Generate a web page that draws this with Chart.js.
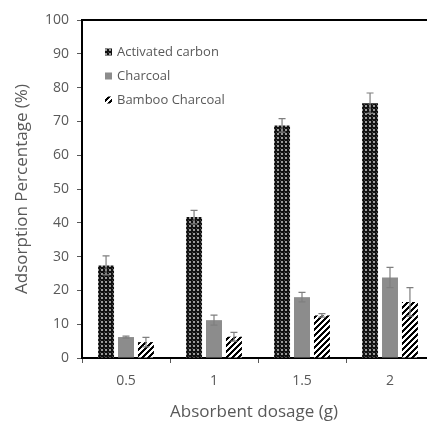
<!DOCTYPE html>
<html>
<head>
<meta charset="utf-8">
<script src="https://cdn.jsdelivr.net/npm/chart.js@4.4.1/dist/chart.umd.min.js"></script>
<style>
  html, body { margin: 0; padding: 0; background: #fff; overflow: hidden; }
  #wrap { width: 436px; height: 426px; }
</style>
</head>
<body>
<div id="wrap"><canvas id="c" width="436" height="426"></canvas></div>
<script>
const categories = ['0.5', '1', '1.5', '2'];
const seriesNames = ['Activated carbon', 'Charcoal', 'Bamboo Charcoal'];
const activated = [27.4, 41.7, 68.8, 75.4];
const activatedErr = [2.8, 2.0, 2.0, 3.0];
const charcoal = [6.2, 11.2, 18.0, 23.8];
const charcoalErr = [0.3, 1.5, 1.4, 3.0];
const bamboo = [4.7, 6.3, 12.6, 16.6];
const bambooErr = [1.4, 1.3, 0.5, 4.2];
const yTicks = [0, 10, 20, 30, 40, 50, 60, 70, 80, 90, 100];

function makeTile(size, draw) {
  const cv = document.createElement('canvas');
  cv.width = size; cv.height = size;
  const g = cv.getContext('2d');
  draw(g, size);
  return cv;
}
const ctx = document.getElementById('c').getContext('2d');
const dotPattern = ctx.createPattern(makeTile(4, (g, s) => {
  g.fillStyle = '#111'; g.fillRect(0, 0, s, s);
  g.fillStyle = '#9a9a9a'; g.fillRect(1, 1, 2, 2);
  g.fillStyle = '#444'; g.fillRect(0, 0, 1, 1);
}), 'repeat');
const hatchPattern = ctx.createPattern(makeTile(6, (g, s) => {
  g.fillStyle = '#fff'; g.fillRect(0, 0, s, s);
  g.fillStyle = '#000';
  for (let px = 0; px < s; px++) {
    for (let py = 0; py < s; py++) {
      if ((px + py) % s < 3) g.fillRect(px, py, 1, 1);
    }
  }
}), 'repeat');

const errors = [activatedErr, charcoalErr, bambooErr];
const TEXT = '#595959';
const FONT = "'Open Sans', 'Noto Sans', sans-serif";

const errorBarPlugin = {
  id: 'errorBars',
  afterDatasetsDraw(chart) {
    const c = chart.ctx, y = chart.scales.y;
    c.save();
    c.strokeStyle = '#7f7f7f'; c.lineWidth = 1.2;
    chart.data.datasets.forEach((ds, i) => {
      const meta = chart.getDatasetMeta(i);
      meta.data.forEach((bar, j) => {
        const v = ds.data[j], e = errors[i][j];
        const top = y.getPixelForValue(v + e), bot = y.getPixelForValue(v - e);
        c.beginPath();
        c.moveTo(bar.x, top); c.lineTo(bar.x, bot);
        c.moveTo(bar.x - 3.5, top); c.lineTo(bar.x + 3.5, top);
        c.moveTo(bar.x - 3.5, bot); c.lineTo(bar.x + 3.5, bot);
        c.stroke();
      });
    });
    c.restore();
  }
};

const decorPlugin = {
  id: 'decor',
  afterDraw(chart) {
    const c = chart.ctx, a = chart.chartArea;
    c.save();
    c.strokeStyle = '#000'; c.lineWidth = 2;
    c.beginPath(); c.moveTo(a.left - 1, a.top); c.lineTo(chart.width, a.top); c.stroke();
    c.font = '13px ' + FONT;
    c.textBaseline = 'middle'; c.textAlign = 'left';
    const rows = [52, 76, 100];
    chart.data.datasets.forEach((ds, i) => {
      c.fillStyle = ds.backgroundColor;
      c.fillRect(105, rows[i] - 3.5, 7, 7);
      c.fillStyle = TEXT;
      c.fillText(ds.label, 117, rows[i]);
    });
    c.font = '17px ' + FONT;
    c.fillStyle = TEXT;
    c.textAlign = 'center';
    c.fillText('Absorbent dosage (g)', 254, 412);
    c.translate(22, (a.top + a.bottom) / 2);
    c.rotate(-Math.PI / 2);
    c.fillText('Adsorption Percentage (%)', 0, 0);
    c.restore();
  }
};

new Chart(ctx, {
  type: 'bar',
  data: {
    labels: categories,
    datasets: [
      { label: seriesNames[0], data: activated, backgroundColor: dotPattern },
      { label: seriesNames[1], data: charcoal, backgroundColor: '#8c8c8c' },
      { label: seriesNames[2], data: bamboo, backgroundColor: hatchPattern }
    ]
  },
  options: {
    responsive: false,
    animation: false,
    devicePixelRatio: 1,
    layout: { padding: { top: 20, left: 0, right: 2, bottom: 0 } },
    datasets: { bar: { barPercentage: 0.8, categoryPercentage: 0.68 } },
    plugins: { legend: { display: false }, tooltip: { enabled: false } },
    scales: {
      x: {
        grid: { drawOnChartArea: false, tickLength: 5, color: '#595959', offset: true },
        border: { color: '#000', width: 2 },
        ticks: { color: TEXT, font: { family: FONT, size: 14 }, padding: 10 },
        afterFit(s) { s.height = 68; }
      },
      y: {
        min: 0, max: 100,
        afterBuildTicks(s) { s.ticks = yTicks.map(v => ({ value: v })); },
        grid: { drawOnChartArea: false, tickLength: 5, color: '#595959' },
        border: { color: '#000', width: 2 },
        ticks: { color: TEXT, font: { family: FONT, size: 14 }, padding: 8 },
        afterFit(s) { s.width = 82; }
      }
    }
  },
  plugins: [errorBarPlugin, decorPlugin]
});
</script>
</body>
</html>
